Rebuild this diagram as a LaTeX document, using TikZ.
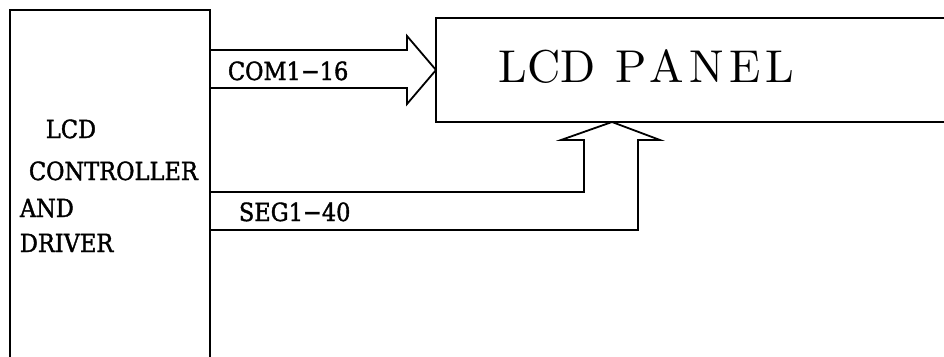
\documentclass[tikz,border=0pt]{standalone}
\usepackage{fontspec}
\newfontfamily\lblfont{DejaVu Serif Condensed}[FakeBold=1.5]
\newfontfamily\panelfont{lmroman10-regular}[Extension=.otf]
\usetikzlibrary{calc}
\begin{document}
\begin{tikzpicture}[x=1pt,y=-1pt,line width=1.8pt,line join=miter,
  blockbox/.style={draw,rectangle,inner sep=0pt,outer sep=0pt,anchor=north west},
  lbl/.style={font=\lblfont\fontsize{25}{25}\selectfont,anchor=base west,inner sep=0pt},
  paneltext/.style={font=\panelfont\fontsize{46}{46}\selectfont,anchor=base west,inner sep=0pt},
  bus/.style={draw}]
\useasboundingbox (0,0) rectangle (944,356);
\clip (0,0) rectangle (944,356);
% blocks
\node[blockbox,minimum width=200pt,minimum height=400pt] (ctrl) at (10,10) {};
\node[blockbox,minimum width=560pt,minimum height=104pt] (panel) at (436,18) {};
% texts
\node[paneltext] (ptxt) at (498,82) {LCD\hspace{20pt}{\addfontfeatures{LetterSpace=12}PANEL}};
\node[lbl] (t1) at (45,138) {LCD};
\node[lbl] (t2) at (28,180) {CONTROLLER};
\node[lbl] (t3) at (19,217) {AND};
\node[lbl] (t4) at (19,252) {DRIVER};
\node[lbl] (com) at (227,80) {COM1−16};
\node[lbl] (seg) at (238,221) {SEG1−40};
% COM bus
\coordinate (segtip) at ($(panel.south west)+(176,0)$);
\draw[bus] (ctrl.north east |- 0,50) -- (407,50) -- (407,36) -- (panel.west)
  -- (407,104) -- (407,88) -- (ctrl.north east |- 0,88);
% SEG bus
\draw[bus] (ctrl.north east |- 0,192) -- (584,192) -- (584,140) -- (561,140)
  -- (segtip) -- (660,140) -- (638,140) -- (638,230) -- (ctrl.north east |- 0,230);
\end{tikzpicture}
\end{document}
